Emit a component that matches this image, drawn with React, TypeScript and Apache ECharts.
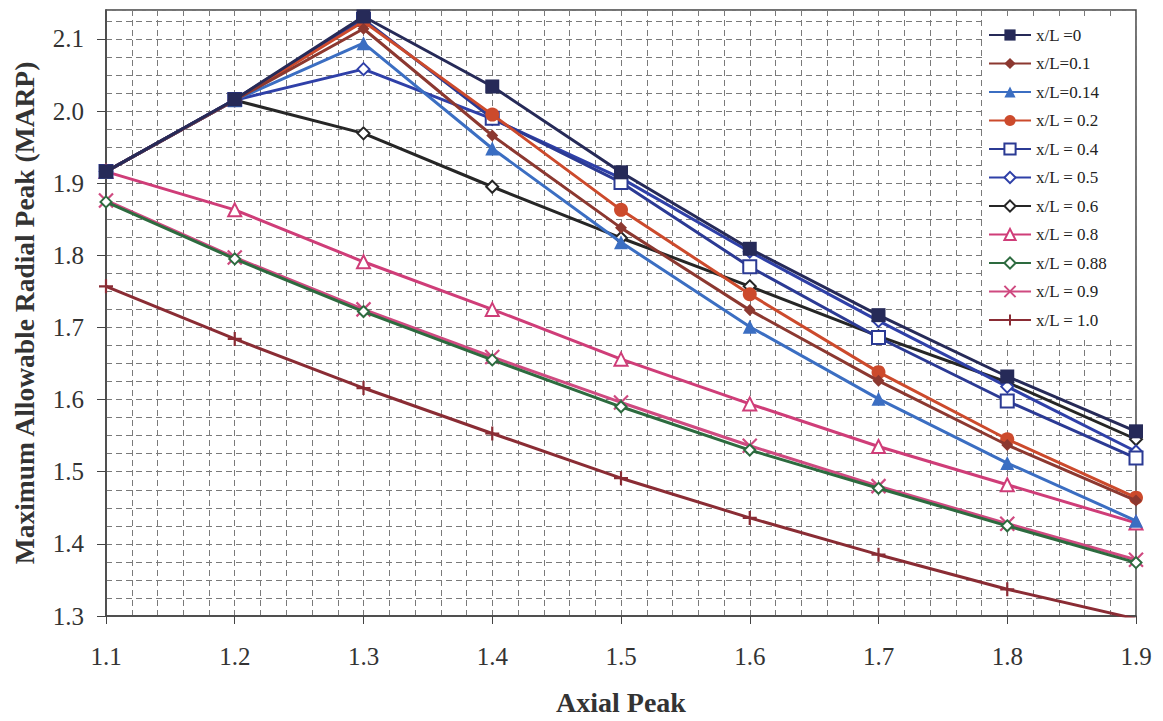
import React, { useEffect, useRef } from "react";
import * as echarts from "echarts";

const FONT = '"Liberation Serif", "Times New Roman", serif';

const axialPeaks = [1.1, 1.2, 1.3, 1.4, 1.5, 1.6, 1.7, 1.8, 1.9];
const yTickValues = [1.3, 1.4, 1.5, 1.6, 1.7, 1.8, 1.9, 2.0, 2.1];

const seriesNames = [
  "x/L =0",
  "x/L=0.1",
  "x/L=0.14",
  "x/L = 0.2",
  "x/L = 0.4",
  "x/L = 0.5",
  "x/L = 0.6",
  "x/L = 0.8",
  "x/L = 0.88",
  "x/L = 0.9",
  "x/L = 1.0",
];

const xl00 = [1.916, 2.016, 2.131, 2.034, 1.915, 1.809, 1.717, 1.632, 1.556];
const xl01 = [1.916, 2.015, 2.114, 1.966, 1.838, 1.724, 1.626, 1.537, 1.46];
const xl014 = [1.916, 2.015, 2.094, 1.948, 1.818, 1.701, 1.601, 1.512, 1.432];
const xl02 = [1.916, 2.015, 2.124, 1.995, 1.863, 1.746, 1.638, 1.545, 1.464];
const xl04 = [1.916, 2.016, 2.127, 1.99, 1.901, 1.784, 1.686, 1.598, 1.519];
const xl05 = [1.916, 2.015, 2.058, 1.989, 1.907, 1.805, 1.709, 1.618, 1.528];
const xl06 = [1.916, 2.015, 1.969, 1.895, 1.824, 1.757, 1.688, 1.624, 1.545];
const xl08 = [1.916, 1.863, 1.791, 1.725, 1.656, 1.594, 1.535, 1.482, 1.429];
const xl088 = [1.874, 1.795, 1.722, 1.655, 1.59, 1.53, 1.477, 1.425, 1.374];
const xl09 = [1.876, 1.797, 1.725, 1.659, 1.596, 1.536, 1.48, 1.428, 1.378];
const xl10 = [1.757, 1.684, 1.616, 1.553, 1.491, 1.436, 1.385, 1.337, 1.296];

const seriesValues = [xl00, xl01, xl014, xl02, xl04, xl05, xl06, xl08, xl088, xl09, xl10];

const seriesColors = [
  "#262a58",
  "#8c3830",
  "#3b6ec2",
  "#cc4a2c",
  "#2b3a94",
  "#2f40a8",
  "#262626",
  "#cf3d78",
  "#2d6b3f",
  "#cf4a80",
  "#8a2c34",
];

const CROSS = "path://M0,0L10,10M10,0L0,10";
const PLUS = "path://M5,0L5,10M0,5L10,5";

const seriesSymbols = [
  "rect",
  "diamond",
  "triangle",
  "circle",
  "emptyRect",
  "emptyDiamond",
  "emptyDiamond",
  "emptyTriangle",
  "emptyDiamond",
  CROSS,
  PLUS,
];
const seriesSymbolSizes = [14, 12, 14, 14, 13, 12, 12, 13, 11, 14, 14];

const gridLineStyle = { color: "#7a7a7a", width: 1, type: [6, 4] };

export default function App() {
  const ref = useRef<HTMLDivElement>(null);

  useEffect(() => {
    if (!ref.current) return;
    const chart = echarts.init(ref.current, undefined, { renderer: "svg" });

    const series = seriesNames.map((name, i) => {
      const sym = seriesSymbols[i];
      const isEmpty = typeof sym === "string" && sym.startsWith("empty");
      const isPath = sym === CROSS || sym === PLUS;
      return {
        name,
        type: "line",
        xAxisIndex: 0,
        yAxisIndex: 0,
        data: axialPeaks.map((x, k) => [x, seriesValues[i][k]]),
        symbol: sym,
        symbolSize: seriesSymbolSizes[i],
        showAllSymbol: true,
        lineStyle: { color: seriesColors[i], width: 3 },
        itemStyle: {
          color: seriesColors[i],
          borderColor: seriesColors[i],
          borderWidth: isEmpty ? 1.8 : isPath ? 2.2 : 0,
        },
        emphasis: { disabled: true },
        z: 12 - i * 0.1,
      };
    });

    const numFormatter = (v: number) =>
      Math.abs(v * 10 - Math.round(v * 10)) < 1e-6 ? v.toFixed(1) : "";

    const option = {
      animation: false,
      backgroundColor: "#ffffff",
      textStyle: { fontFamily: FONT },
      grid: {
        left: 106,
        right: 27,
        top: 10,
        bottom: 102,
        show: true,
        borderColor: "#444",
        borderWidth: 1.5,
        containLabel: false,
      },
      legend: {
        orient: "vertical",
        left: 983,
        top: 19,
        padding: [7, 27, 10, 5],
        backgroundColor: "#ffffff",
        itemWidth: 42,
        itemHeight: 14,
        itemGap: 10.5,
        textStyle: { fontFamily: FONT, fontSize: 17, color: "#222", lineHeight: 18 },
        data: seriesNames,
      },
      xAxis: [
        {
          type: "value",
          position: "bottom",
          min: 1.1,
          max: 1.9,
          interval: 0.1,
          name: "Axial Peak",
          nameLocation: "middle",
          nameGap: 72,
          nameTextStyle: { fontFamily: FONT, fontSize: 28, fontWeight: "bold", color: "#333" },
          axisLine: { show: true, onZero: false, lineStyle: { color: "#444", width: 1.5 } },
          axisTick: { show: true, length: 8, customValues: axialPeaks, lineStyle: { color: "#444" } },
          axisLabel: {
            customValues: axialPeaks,
            margin: 28,
            fontFamily: FONT,
            fontSize: 25,
            color: "#333",
            formatter: numFormatter,
          },
          splitLine: { show: false },
        },
        {
          type: "value",
          position: "bottom",
          min: 1.1,
          max: 1.9,
          interval: 0.02,
          axisLine: { show: false },
          axisTick: { show: false },
          axisLabel: { show: false },
          splitLine: { show: true, lineStyle: gridLineStyle },
        },
      ],
      yAxis: [
        {
          type: "value",
          position: "left",
          min: 1.3,
          max: 2.14,
          interval: 0.1,
          name: "Maximum Allowable Radial Peak (MARP)",
          nameLocation: "middle",
          nameGap: 68,
          nameTextStyle: { fontFamily: FONT, fontSize: 27.5, fontWeight: "bold", color: "#333" },
          axisLine: { show: true, onZero: false, lineStyle: { color: "#444", width: 1.5 } },
          axisTick: { show: true, length: 9, customValues: yTickValues, lineStyle: { color: "#444" } },
          axisLabel: {
            customValues: yTickValues,
            margin: 22,
            fontFamily: FONT,
            fontSize: 25,
            color: "#333",
            formatter: numFormatter,
          },
          splitLine: { show: false },
        },
        {
          type: "value",
          position: "left",
          min: 1.3,
          max: 2.14,
          interval: 0.025,
          axisLine: { show: false },
          axisTick: { show: false },
          axisLabel: { show: false },
          splitLine: { show: true, lineStyle: gridLineStyle },
        },
      ],
      series,
    };

    chart.setOption(option as any);
    return () => chart.dispose();
  }, []);

  return (
    <div
      ref={ref}
      style={{ position: "fixed", left: 0, top: 0, width: 1163, height: 721, background: "#fff" }}
    />
  );
}
